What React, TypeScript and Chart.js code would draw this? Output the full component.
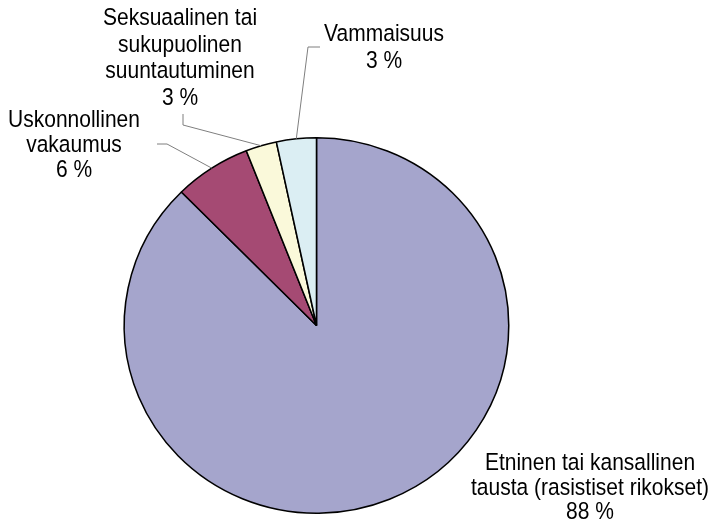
import React, { useEffect, useRef } from "react";
import { Chart, registerables } from "chart.js";

Chart.register(...registerables);

const categories = [
  "Etninen tai kansallinen tausta (rasistiset rikokset)",
  "Uskonnollinen vakaumus",
  "Seksuaalinen tai sukupuolinen suuntautuminen",
  "Vammaisuus",
];
const labelLines = [
  ["Etninen tai kansallinen", "tausta (rasistiset rikokset)"],
  ["Uskonnollinen", "vakaumus"],
  ["Seksuaalinen tai", "sukupuolinen", "suuntautuminen"],
  ["Vammaisuus"],
];
const shares = [87.6, 6.45, 2.6, 3.35];
const colors = ["#A5A5CC", "#A54A73", "#FAF9DA", "#DBEEF3"];

// Label placement (styling/layout only)
const labelLayout = [
  { x: 590, base: 470, lh: 24.5, leader: [] as number[][] },
  { x: 74, base: 127, lh: 25, leader: [[167, 144], [157, 144]] },
  { x: 180, base: 25, lh: 26.5, leader: [[183, 125], [183, 114]] },
  { x: 384, base: 41, lh: 26.5, leader: [[308, 47], [320, 47]] },
];

const X_STRETCH = 1.024;
const TEXT_Y_SCALE = 1.12;
const FONT = '21px "Liberation Sans", Arial, sans-serif';

const stretchPlugin = {
  id: "stretch",
  beforeDatasetsDraw(chart: any) {
    const arc = chart.getDatasetMeta(0).data[0];
    const ctx = chart.ctx;
    ctx.save();
    ctx.translate(arc.x, arc.y);
    ctx.scale(X_STRETCH, 1);
    ctx.translate(-arc.x, -arc.y);
  },
  afterDatasetsDraw(chart: any) {
    chart.ctx.restore();
  },
};

const labelPlugin = {
  id: "pieLabels",
  afterDraw(chart: any) {
    const ctx = chart.ctx;
    const meta = chart.getDatasetMeta(0);
    const data = chart.data.datasets[0].data as number[];
    const total = data.reduce((a, b) => a + b, 0);
    ctx.save();
    meta.data.forEach((arc: any, i: number) => {
      const lay = labelLayout[i];
      if (lay.leader.length) {
        const mid = (arc.startAngle + arc.endAngle) / 2;
        const sx = arc.x + X_STRETCH * arc.outerRadius * Math.cos(mid);
        const sy = arc.y + arc.outerRadius * Math.sin(mid);
        ctx.beginPath();
        ctx.strokeStyle = "#7F7F7F";
        ctx.lineWidth = 1;
        ctx.moveTo(sx, sy);
        lay.leader.forEach((p) => ctx.lineTo(p[0], p[1]));
        ctx.stroke();
      }
      const pct = Math.round((data[i] / total) * 100) + " %";
      const lines = [...labelLines[i], pct];
      ctx.fillStyle = "#000000";
      ctx.font = FONT;
      ctx.textAlign = "center";
      ctx.textBaseline = "alphabetic";
      lines.forEach((t, k) => {
        ctx.save();
        ctx.translate(lay.x, lay.base + k * lay.lh);
        ctx.scale(1, TEXT_Y_SCALE);
        ctx.fillText(t, 0, 0);
        ctx.restore();
      });
    });
    ctx.restore();
  },
};

export default function App() {
  const ref = useRef<HTMLCanvasElement>(null);
  useEffect(() => {
    if (!ref.current) return;
    const chart = new Chart(ref.current, {
      type: "pie",
      data: {
        labels: categories,
        datasets: [
          {
            data: shares,
            backgroundColor: colors,
            borderColor: "#000000",
            borderWidth: 1.5,
          },
        ],
      },
      options: {
        responsive: false,
        animation: false,
        layout: { padding: { left: 128, right: 208, top: 137, bottom: 8 } },
        plugins: {
          legend: { display: false },
          tooltip: { enabled: false },
          title: { display: false },
        },
      },
      plugins: [stretchPlugin, labelPlugin],
    });
    return () => chart.destroy();
  }, []);
  return (
    <div style={{ position: "fixed", left: 0, top: 0, width: 713, height: 522, background: "#fff" }}>
      <canvas ref={ref} width={713} height={522} />
    </div>
  );
}
